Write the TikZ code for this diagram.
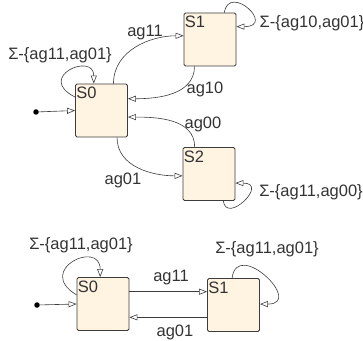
\documentclass[tikz,border=0pt]{standalone}
\usepackage{fontspec}
\setmainfont{Liberation Sans}
\usepackage{tikz}
\usetikzlibrary{arrows.meta,positioning}

\definecolor{boxfill}{HTML}{FFF3E2}
\definecolor{boxline}{HTML}{3C3C3C}
\definecolor{txt}{HTML}{333333}

\tikzset{
  state/.style={draw=boxline,fill=boxfill,rounded corners=1.5pt,line width=0.8pt,
    minimum width=52pt,minimum height=53pt,inner sep=0pt},
  initdot/.style={circle,fill=black,inner sep=0pt,minimum size=5.5pt},
  lbl/.style={text=txt,inner sep=0pt},
  trans/.style={-{Triangle[fill=white,length=8pt,width=6pt]},line width=0.6pt,boxline}
}

\begin{document}
\begin{tikzpicture}[x=1pt,y=1pt,font=\fontsize{16.5}{18}\selectfont]
      \useasboundingbox (0,0) rectangle (363,340);
      % upper automaton
      \node[state] (s0) at (101.5,229.5) {};
      \node[state] (s1) at (210,300.5) {};
      \node[state] (s2) at (209,166) {};
      \node[initdot] (i0) at (36,228) {};
      \foreach \n/\t in {s0/S0,s1/S1,s2/S2}
        \node[lbl,anchor=north west] at ([xshift=1pt,yshift=-3.5pt]\n.north west) {\t};
			\path[trans]
        (i0) edge (s0.west)
        (s0.66) edge[out=90,in=180] (s1.172)
        (s1.240) edge[out=270,in=0] (s0.24)
        (s2.118) edge[out=90,in=0] (s0.346)
        (s0.300) edge[out=270,in=180] (s2.184);
      \draw[trans] (s0.153) .. controls +(-40,20) and +(0,32) .. (s0.106);
      \draw[trans] (s1.62) .. controls +(5,30) and +(40,0) .. (s1.26);
      \draw[trans] (s2.298) .. controls +(3,-24) and +(34,0) .. (s2.341);
      \node[lbl] at (60,285) {Σ-\{ag11,ag01\}};
      \node[lbl] at (145,307) {ag11};
      \node[lbl] at (205,251) {ag10};
      \node[lbl] at (312,317) {Σ-\{ag10,ag01\}};
      \node[lbl] at (203,216) {ag00};
      \node[lbl] at (123,160) {ag01};
      \node[lbl] at (311,148) {Σ-\{ag11,ag00\}};
      % lower automaton
      \node[state] (t0) at (103,36) {};
      \node[state] (t1) at (233.5,35) {};
      \node[initdot] (i1) at (37,35) {};
      \foreach \n/\t in {t0/S0,t1/S1}
        \node[lbl,anchor=north west] at ([xshift=1pt,yshift=-3.5pt]\n.north west) {\t};
			\path[trans]
        (i1) edge (t0.west)
        (t0.25) edge (t0.25 -| t1.west)
        (t1.205) edge (t1.205 -| t0.east);
      \draw[trans] (t0.161) .. controls +(-42,25) and +(0,38) .. (t0.96);
      \draw[trans] (t1.93) .. controls +(5,40) and +(45,0) .. (t1.2);
      \node[lbl] at (81,95) {Σ-\{ag11,ag01\}};
      \node[lbl] at (267,91) {Σ-\{ag11,ag01\}};
      \node[lbl] at (171,62) {ag11};
      \node[lbl] at (175,8) {ag01};
		\end{tikzpicture}
\end{document}
